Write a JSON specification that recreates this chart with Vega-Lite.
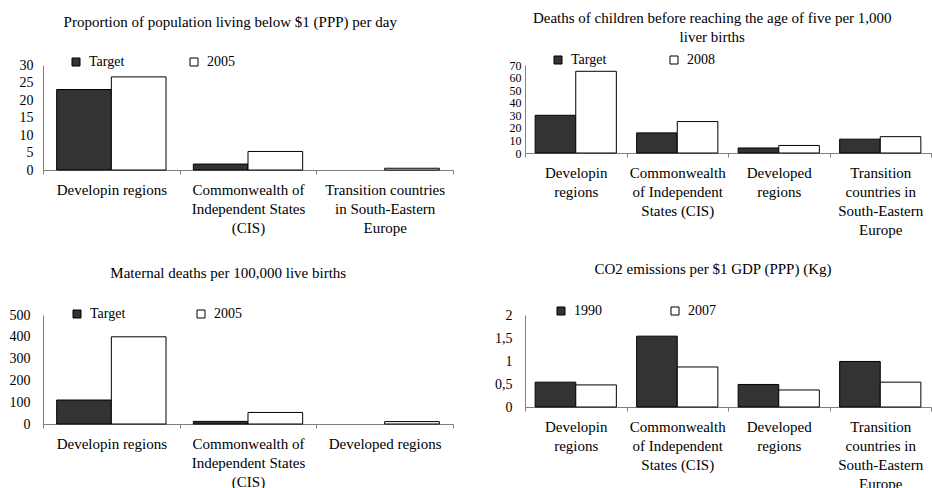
{
  "$schema": "https://vega.github.io/schema/vega-lite/v6.json",
  "padding": {"left": 9, "top": 11, "right": 0, "bottom": 0},
  "background": "white",
  "config": {
    "font": "Liberation Serif",
    "view": {"stroke": null},
    "title": {"font": "Liberation Serif", "fontSize": 15, "fontWeight": "normal", "color": "black", "frame": "bounds", "anchor": "middle", "lineHeight": 19},
    "axis": {"labelFont": "Liberation Serif", "labelFontSize": 14, "labelColor": "black", "domainColor": "#808080", "tickColor": "#808080", "grid": false, "title": null},
    "axisX": {"labelAngle": 0, "tickBand": "extent", "tickSize": 4, "labelPadding": 8, "labelLineHeight": 19, "labelLimit": 0, "labelBaseline": "top", "labelFontSize": 15},
    "axisY": {"ticks": false, "labelOverlap": false, "labelFlush": false, "labelBound": false},
    "legend": {"labelFont": "Liberation Serif", "labelFontSize": 14, "labelColor": "black", "symbolType": "square", "symbolSize": 64, "symbolStrokeColor": "black", "symbolStrokeWidth": 1, "labelOffset": 6, "padding": 0, "columnPadding": 70},
    "bar": {"stroke": "black", "strokeWidth": 1}
  },
  "datasets": {
    "poverty": [
      {"region": "Developin regions", "series": "Target", "value": 23},
      {"region": "Developin regions", "series": "2005", "value": 26.6},
      {"region": "Commonwealth of Independent States (CIS)", "series": "Target", "value": 1.7},
      {"region": "Commonwealth of Independent States (CIS)", "series": "2005", "value": 5.3},
      {"region": "Transition countries in South-Eastern Europe", "series": "Target", "value": null},
      {"region": "Transition countries in South-Eastern Europe", "series": "2005", "value": 0.5}
    ],
    "child": [
      {"region": "Developin regions", "series": "Target", "value": 30},
      {"region": "Developin regions", "series": "2008", "value": 65},
      {"region": "Commonwealth of Independent States (CIS)", "series": "Target", "value": 16},
      {"region": "Commonwealth of Independent States (CIS)", "series": "2008", "value": 25},
      {"region": "Developed regions", "series": "Target", "value": 4},
      {"region": "Developed regions", "series": "2008", "value": 6},
      {"region": "Transition countries in South-Eastern Europe", "series": "Target", "value": 11},
      {"region": "Transition countries in South-Eastern Europe", "series": "2008", "value": 13}
    ],
    "maternal": [
      {"region": "Developin regions", "series": "Target", "value": 110},
      {"region": "Developin regions", "series": "2005", "value": 400},
      {"region": "Commonwealth of Independent States (CIS)", "series": "Target", "value": 12},
      {"region": "Commonwealth of Independent States (CIS)", "series": "2005", "value": 53},
      {"region": "Developed regions", "series": "Target", "value": null},
      {"region": "Developed regions", "series": "2005", "value": 11}
    ],
    "co2": [
      {"region": "Developin regions", "series": "1990", "value": 0.54},
      {"region": "Developin regions", "series": "2007", "value": 0.48},
      {"region": "Commonwealth of Independent States (CIS)", "series": "1990", "value": 1.54},
      {"region": "Commonwealth of Independent States (CIS)", "series": "2007", "value": 0.87},
      {"region": "Developed regions", "series": "1990", "value": 0.49},
      {"region": "Developed regions", "series": "2007", "value": 0.37},
      {"region": "Transition countries in South-Eastern Europe", "series": "1990", "value": 0.99},
      {"region": "Transition countries in South-Eastern Europe", "series": "2007", "value": 0.54}
    ]
  },
  "concat": [
    {
      "data": {"name": "poverty"},
      "title": {"text": "Proportion of population living below $1 (PPP) per day", "offset": 25, "dx": -6},
      "width": 410, "height": 105,
      "mark": "bar",
      "encoding": {
        "x": {"field": "region", "type": "nominal", "sort": null,
              "scale": {"paddingInner": 0, "paddingOuter": 0},
              "axis": {"labelExpr": "datum.label == 'Developin regions' ? 'Developin regions' : datum.label == 'Commonwealth of Independent States (CIS)' ? ['Commonwealth of', 'Independent States', '(CIS)'] : datum.label == 'Transition countries in South-Eastern Europe' ? ['Transition countries', 'in South-Eastern', 'Europe'] : ''"}},
        "xOffset": {"field": "series", "type": "nominal", "scale": {"domain": ["Target", "2005"], "paddingInner": 0, "paddingOuter": 0.25}},
        "y": {"field": "value", "type": "quantitative", "scale": {"domain": [0, 30], "nice": false},
              "axis": {"values": [0, 5, 10, 15, 20, 25, 30], "labelPadding": 10}},
        "color": {"field": "series", "type": "nominal", "scale": {"domain": ["Target", "2005"], "range": ["#333333", "#ffffff"]},
                  "legend": {"title": null, "orient": "none", "direction": "horizontal", "columns": 2, "legendX": 26, "legendY": -10, "columnPadding": 62}}
      }
    },
    {
      "data": {"name": "child"},
      "title": {"text": ["Deaths of children before reaching the age of five per 1,000", "liver births"], "offset": 8, "dx": -8},
      "width": 406, "height": 88,
      "mark": "bar",
      "encoding": {
        "x": {"field": "region", "type": "nominal", "sort": null,
              "scale": {"paddingInner": 0, "paddingOuter": 0},
              "axis": {"labelExpr": "datum.label == 'Developin regions' ? ['Developin', 'regions'] : datum.label == 'Commonwealth of Independent States (CIS)' ? ['Commonwealth', 'of Independent', 'States (CIS)'] : datum.label == 'Developed regions' ? ['Developed', 'regions'] : datum.label == 'Transition countries in South-Eastern Europe' ? ['Transition', 'countries in', 'South-Eastern', 'Europe'] : ''"}},
        "xOffset": {"field": "series", "type": "nominal", "scale": {"domain": ["Target", "2008"], "paddingInner": 0, "paddingOuter": 0.25}},
        "y": {"field": "value", "type": "quantitative", "scale": {"domain": [0, 70], "nice": false},
              "axis": {"values": [0, 10, 20, 30, 40, 50, 60, 70], "labelPadding": 4, "labelFontSize": 12}},
        "color": {"field": "series", "type": "nominal", "scale": {"domain": ["Target", "2008"], "range": ["#333333", "#ffffff"]},
                  "legend": {"title": null, "orient": "none", "direction": "horizontal", "columns": 2, "legendX": 26, "legendY": -12, "columnPadding": 60}}
      }
    },
    {
      "data": {"name": "maternal"},
      "title": {"text": "Maternal deaths per 100,000 live births", "offset": 26, "dx": -3},
      "width": 410, "height": 109,
      "mark": "bar",
      "encoding": {
        "x": {"field": "region", "type": "nominal", "sort": null,
              "scale": {"paddingInner": 0, "paddingOuter": 0},
              "axis": {"labelExpr": "datum.label == 'Commonwealth of Independent States (CIS)' ? ['Commonwealth of', 'Independent States', '(CIS)'] : datum.label"}},
        "xOffset": {"field": "series", "type": "nominal", "scale": {"domain": ["Target", "2005"], "paddingInner": 0, "paddingOuter": 0.25}},
        "y": {"field": "value", "type": "quantitative", "scale": {"domain": [0, 500], "nice": false},
              "axis": {"values": [0, 100, 200, 300, 400, 500], "labelPadding": 13}},
        "color": {"field": "series", "type": "nominal", "scale": {"domain": ["Target", "2005"], "range": ["#333333", "#ffffff"]},
                  "legend": {"title": null, "orient": "none", "direction": "horizontal", "columns": 2, "legendX": 27, "legendY": -8, "columnPadding": 68}}
      }
    },
    {
      "data": {"name": "co2"},
      "title": {"text": "CO2 emissions per $1 GDP (PPP) (Kg)", "offset": 27},
      "width": 406, "height": 92,
      "mark": "bar",
      "encoding": {
        "x": {"field": "region", "type": "nominal", "sort": null,
              "scale": {"paddingInner": 0, "paddingOuter": 0},
              "axis": {"labelExpr": "datum.label == 'Developin regions' ? ['Developin', 'regions'] : datum.label == 'Commonwealth of Independent States (CIS)' ? ['Commonwealth', 'of Independent', 'States (CIS)'] : datum.label == 'Developed regions' ? ['Developed', 'regions'] : datum.label == 'Transition countries in South-Eastern Europe' ? ['Transition', 'countries in', 'South-Eastern', 'Europe'] : ''"}},
        "xOffset": {"field": "series", "type": "nominal", "scale": {"domain": ["1990", "2007"], "paddingInner": 0, "paddingOuter": 0.25}},
        "y": {"field": "value", "type": "quantitative", "scale": {"domain": [0, 2], "nice": false},
              "axis": {"values": [0, 0.5, 1, 1.5, 2], "format": "~g", "labelExpr": "replace(datum.label, '.', ',')", "labelPadding": 13}},
        "color": {"field": "series", "type": "nominal", "scale": {"domain": ["1990", "2007"], "range": ["#333333", "#ffffff"]},
                  "legend": {"title": null, "orient": "none", "direction": "horizontal", "columns": 2, "legendX": 29, "legendY": -11, "columnPadding": 66}}
      }
    }
  ],
  "columns": 2,
  "align": "each",
  "spacing": {"column": 40, "row": 25},
  "resolve": {"scale": {"color": "independent", "y": "independent", "x": "independent", "xOffset": "independent"}}
}
